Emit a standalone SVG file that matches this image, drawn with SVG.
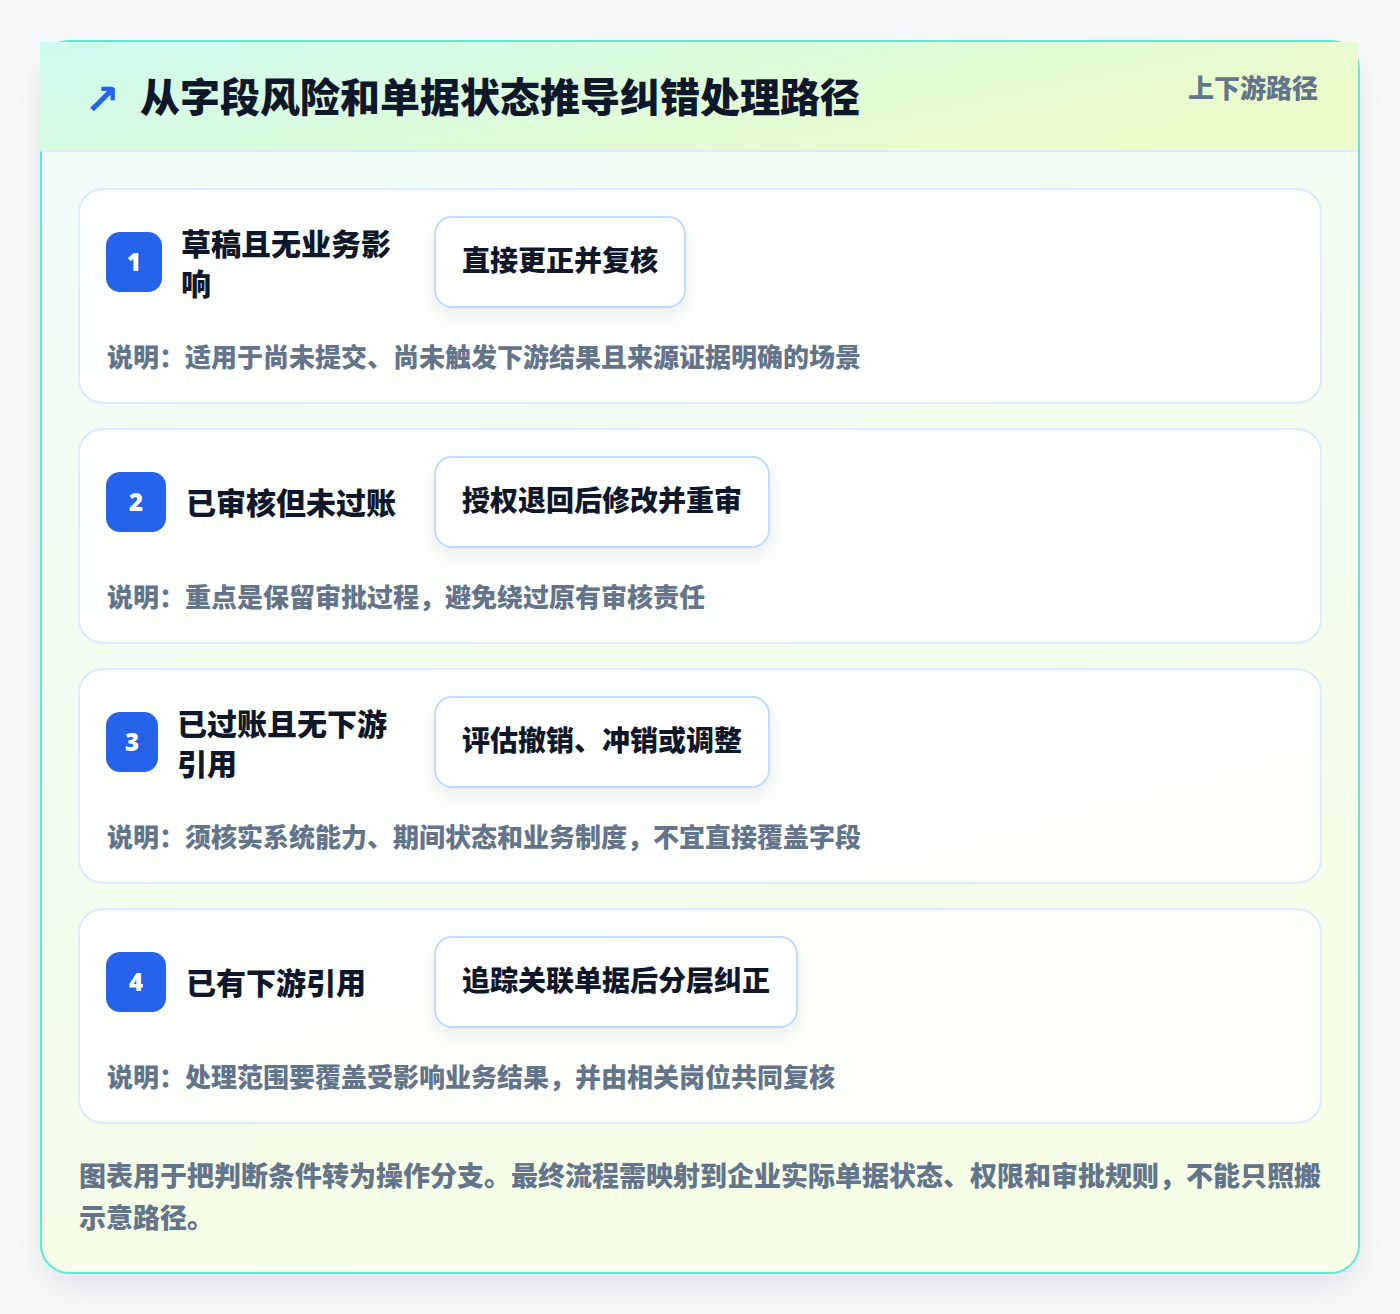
<svg xmlns="http://www.w3.org/2000/svg" width="1400" height="1314" viewBox="0 0 1400 1314">
<defs>
<linearGradient id="bodyGrad" x1="0" y1="0" x2="0.3" y2="1">
<stop offset="0" stop-color="#effcf9"/>
<stop offset="1" stop-color="#f6fee7"/>
</linearGradient>
<linearGradient id="headGrad" x1="0" y1="0" x2="1" y2="0.4">
<stop offset="0" stop-color="#cdfaf0"/>
<stop offset="0.5" stop-color="#dcfbdc"/>
<stop offset="1" stop-color="#ebfccb"/>
</linearGradient>
<filter id="outerShadow" x="-10%" y="-10%" width="120%" height="120%">
<feDropShadow dx="0" dy="14" stdDeviation="18" flood-color="#0f172a" flood-opacity="0.09"/>
</filter>
<filter id="boxShadow" x="-20%" y="-30%" width="140%" height="170%">
<feDropShadow dx="0" dy="8" stdDeviation="9" flood-color="#0f172a" flood-opacity="0.07"/>
</filter>
<style>
.card{fill:#ffffff;fill-opacity:0.82;stroke:#dbeafe;stroke-width:2}
.badge{fill:#2563eb}
.num{font-family:"Noto Sans","Noto Sans CJK SC",sans-serif;font-weight:900;font-size:24px;fill:#ffffff;text-anchor:middle}
.ttl{font-family:"Noto Sans CJK SC",sans-serif;font-weight:900;font-size:30px;fill:#0f172a}
.box{fill:#ffffff;stroke:#bfdbfe;stroke-width:2}
.act{font-family:"Noto Sans CJK SC",sans-serif;font-weight:900;font-size:28px;fill:#0f172a}
.desc{font-family:"Noto Sans CJK SC",sans-serif;font-weight:900;font-size:26px;fill:#64748b}
.foot{font-family:"Noto Sans CJK SC",sans-serif;font-weight:900;font-size:27px;fill:#64748b}
</style>
</defs>
<rect x="0" y="0" width="1400" height="1314" fill="#f9fafb"/>
<g id="panel">
<rect x="41" y="41" width="1318" height="1232" rx="28" fill="url(#bodyGrad)" stroke="#5eead4" stroke-width="2" filter="url(#outerShadow)"/>
<rect x="40" y="42" width="1318" height="109" fill="url(#headGrad)"/>
<line x1="41" y1="151" x2="1358" y2="151" stroke="#dbeafe" stroke-width="2"/>
<text x="102" y="114" font-family="DejaVu Sans,sans-serif" font-weight="700" font-size="42" fill="#2563eb" text-anchor="middle">↗</text>
<text x="140" y="112" font-family="Noto Sans CJK SC,sans-serif" font-weight="900" font-size="40" fill="#0f172a">从字段风险和单据状态推导纠错处理路径</text>
<text x="1318" y="98" font-family="Noto Sans CJK SC,sans-serif" font-weight="900" font-size="26" fill="#64748b" text-anchor="end">上下游路径</text>
</g>
<g id="connectors"></g>
<g id="node1">
<rect class="card" x="79" y="189" width="1242" height="214" rx="24"/>
<rect class="badge" x="106" y="232" width="56" height="60" rx="14"/>
<text class="num" x="134" y="271">1</text>
<text class="ttl" x="181" y="255">草稿且无业务影</text>
<text class="ttl" x="181" y="295">响</text>
<rect class="box" x="435" y="217" width="250" height="90" rx="17" filter="url(#boxShadow)"/>
<text class="act" x="462" y="271">直接更正并复核</text>
<text class="desc" x="107" y="367">说明：适用于尚未提交、尚未触发下游结果且来源证据明确的场景</text>
</g>
<g id="node2">
<rect class="card" x="79" y="429" width="1242" height="214" rx="24"/>
<rect class="badge" x="106" y="472" width="60" height="60" rx="14"/>
<text class="num" x="136" y="511">2</text>
<text class="ttl" x="186" y="514">已审核但未过账</text>
<rect class="box" x="435" y="457" width="334" height="90" rx="17" filter="url(#boxShadow)"/>
<text class="act" x="462" y="511">授权退回后修改并重审</text>
<text class="desc" x="107" y="607">说明：重点是保留审批过程，避免绕过原有审核责任</text>
</g>
<g id="node3">
<rect class="card" x="79" y="669" width="1242" height="214" rx="24"/>
<rect class="badge" x="106" y="712" width="52" height="60" rx="14"/>
<text class="num" x="132" y="751">3</text>
<text class="ttl" x="177" y="735">已过账且无下游</text>
<text class="ttl" x="177" y="775">引用</text>
<rect class="box" x="435" y="697" width="334" height="90" rx="17" filter="url(#boxShadow)"/>
<text class="act" x="462" y="751">评估撤销、冲销或调整</text>
<text class="desc" x="107" y="847">说明：须核实系统能力、期间状态和业务制度，不宜直接覆盖字段</text>
</g>
<g id="node4">
<rect class="card" x="79" y="909" width="1242" height="214" rx="24"/>
<rect class="badge" x="106" y="952" width="60" height="60" rx="14"/>
<text class="num" x="136" y="991">4</text>
<text class="ttl" x="186" y="994">已有下游引用</text>
<rect class="box" x="435" y="937" width="362" height="90" rx="17" filter="url(#boxShadow)"/>
<text class="act" x="462" y="991">追踪关联单据后分层纠正</text>
<text class="desc" x="107" y="1087">说明：处理范围要覆盖受影响业务结果，并由相关岗位共同复核</text>
</g>
<g id="footer">
<text class="foot" x="79" y="1186">图表用于把判断条件转为操作分支。最终流程需映射到企业实际单据状态、权限和审批规则，不能只照搬</text>
<text class="foot" x="79" y="1228">示意路径。</text>
</g>
</svg>
